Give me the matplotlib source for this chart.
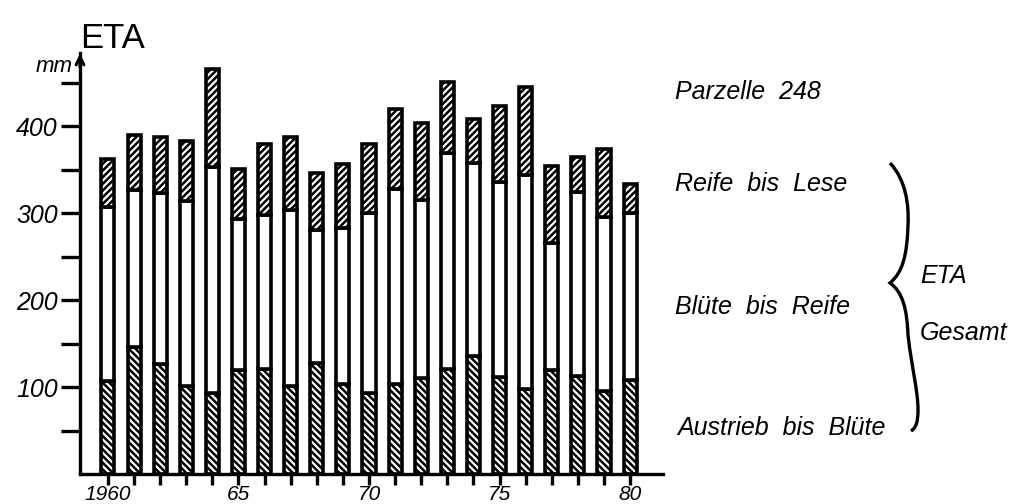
import numpy as np
import matplotlib
matplotlib.use("Agg")
import matplotlib.pyplot as plt
from matplotlib.path import Path
from matplotlib.patches import PathPatch

# ETA (mm) per phase, Parzelle 248, 1960-1980
years = np.arange(1960, 1981)
austrieb_bis_bluete = [107, 146, 127, 101, 93, 120, 121, 101, 128, 104, 93,
                       103, 110, 121, 136, 111, 98, 120, 113, 95, 108]
bluete_bis_reife = [200, 181, 196, 213, 260, 173, 177, 202, 152, 179, 207,
                    225, 205, 248, 222, 225, 246, 146, 211, 200, 192]
reife_bis_lese = [55, 63, 64, 69, 113, 58, 81, 85, 66, 73, 79,
                  92, 88, 82, 50, 87, 101, 88, 41, 79, 33]
xtick_years = [1960, 1965, 1970, 1975, 1980]
xtick_labels = ["1960", "65", "70", "75", "80"]
ytick_major = [100, 200, 300, 400]
ytick_minor = [50, 150, 250, 350, 450]

plt.rcParams['font.family'] = ['Liberation Sans', 'DejaVu Sans']
plt.rcParams['hatch.linewidth'] = 1.8

fig = plt.figure(figsize=(10.2, 5.04), dpi=100)
ax = fig.add_axes([80 / 1020, 1 - 474 / 504, (663 - 80) / 1020, (474 - 53) / 504])

bottom1 = np.array(austrieb_bis_bluete)
bottom2 = bottom1 + np.array(bluete_bis_reife)
w = 0.5
kw = dict(width=w, edgecolor='black', linewidth=2.6, facecolor='white')
ax.bar(years, austrieb_bis_bluete, hatch='\\\\\\\\\\', **kw)
ax.bar(years, bluete_bis_reife, bottom=bottom1, **kw)
ax.bar(years, reife_bis_lese, bottom=bottom2, hatch='/////', **kw)

ax.set_xlim(1958.93, 1981.26)
ax.set_ylim(0, 484)
for s in ['top', 'right']:
    ax.spines[s].set_visible(False)
for s in ['left', 'bottom']:
    ax.spines[s].set_linewidth(2.4)

ax.set_xticks(years, minor=True)
ax.set_xticks(xtick_years)
ax.set_xticklabels(xtick_labels, fontsize=15, style='italic')
ax.tick_params(axis='x', which='both', direction='out', length=8, width=2.4, pad=0)
ax.set_yticks(ytick_major)
ax.set_yticks(ytick_minor, minor=True)
ax.set_yticklabels([str(v) for v in ytick_major], fontsize=18, style='italic')
ax.tick_params(axis='y', which='both', direction='out', length=14, width=2.4, pad=2)

# arrow at top of y axis
ax.annotate('', xy=(0, 1.005), xytext=(0, 0.96), xycoords='axes fraction',
            arrowprops=dict(arrowstyle='->', lw=2.2, color='black',
                            mutation_scale=14), annotation_clip=False)

# overlay in pixel coordinates for labels
ov = fig.add_axes([0, 0, 1, 1])
ov.set_xlim(0, 1020)
ov.set_ylim(504, 0)
ov.axis('off')
ov.patch.set_alpha(0)

ov.text(80, 48, "ETA", fontsize=25, ha='left', va='baseline')
ov.text(73, 72, "mm", fontsize=16, style='italic', ha='right', va='baseline')

lbl = dict(fontsize=18, style='italic', ha='left', va='center')
ov.text(675, 92, "Parzelle  248", **lbl)
ov.text(675, 184, "Reife  bis  Lese", **lbl)
ov.text(675, 307, "Blüte  bis  Reife", **lbl)
ov.text(677, 428, "Austrieb  bis  Blüte", **lbl)
ov.text(920, 276, "ETA", **lbl)
ov.text(920, 333, "Gesamt", **lbl)

# curly brace
verts = [(890, 163),
         (906, 180), (909, 205), (908, 225),
         (907, 255), (903, 272), (890, 283),
         (903, 292), (907, 310), (908, 335),
         (912, 370), (918, 390), (918, 410),
         (918, 422), (916, 428), (911, 431)]
codes = [Path.MOVETO] + [Path.CURVE4] * 15
ov.add_patch(PathPatch(Path(verts, codes), fill=False, lw=2.4, edgecolor='black'))

fig.savefig("out.png", dpi=100, facecolor='white')
